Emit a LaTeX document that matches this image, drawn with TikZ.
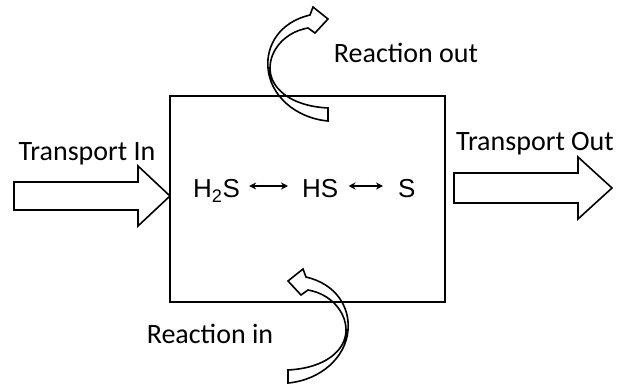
\documentclass[tikz,border=0pt]{standalone}
\usepackage{fontspec}
\setmainfont{Carlito}
\newfontfamily\arialfont{Liberation Sans}
\usetikzlibrary{arrows.meta}
\tikzset{
    lbl/.style={font=\fontsize{28}{30}\selectfont, inner sep=0pt, anchor=base},
    species/.style={font=\arialfont\fontsize{26}{28}\selectfont, inner sep=0pt, anchor=base west},
    fat/.style={line width=1.6pt, line join=miter},
    eq/.style={{Stealth[length=7pt,width=7pt]}-{Stealth[length=7pt,width=7pt]}, line width=1.4pt},
    react arrow/.pic={
        \draw[fat] (0,0) .. controls (-38,-2) and (-58,-20) .. (-58,-40)
            .. controls (-58,-58) and (-43,-76) .. (-20,-80) -- (-13,-75) -- (0,-89)
            -- (-15,-101) -- (-18,-93) .. controls (-48,-86) and (-62,-63) .. (-60,-40)
            .. controls (-58,-13) and (-33,10) .. (0,13) -- cycle;
    },
}
\begin{document}
\begin{tikzpicture}[x=1pt,y=-1pt]
    \useasboundingbox (0,0) rectangle (622,385);
    \node[draw, fat, minimum width=275pt, minimum height=206pt, inner sep=0pt] (cell) at (307.5,199) {};
    \draw[fat] (14,182) -- (138,182) -- (138,166) -- (170,196) -- (138,226) -- (138,210) -- (14,210) -- cycle;
    \draw[fat] (454,173) -- (578,173) -- (578,157) -- (612,188) -- (578,219) -- (578,203) -- (454,203) -- cycle;
    \pic at (328,108) {react arrow};
    \pic[xscale=-1] at (288,370) {react arrow};
    \node[lbl] (tin) at (87,161) {Transport In};
    \node[lbl] (tout) at (535,151) {Transport Out};
    \node[lbl] (rout) at (406,63) {Reaction out};
    \node[lbl] (rin) at (210,343) {Reaction in};
    \node[species] (h2s) at (193,198) {H\textsubscript{2}S};
    \node[species] (hs) at (302,198) {HS};
    \node[species] (s) at (398,198) {S};
    \draw[eq, shorten <=9pt, shorten >=14pt] ([yshift=12pt]h2s.base east) -- ([yshift=12pt]hs.base west);
    \draw[eq, shorten <=10pt, shorten >=15pt] ([yshift=12pt]hs.base east) -- ([yshift=12pt]s.base west);
\end{tikzpicture}
\end{document}
